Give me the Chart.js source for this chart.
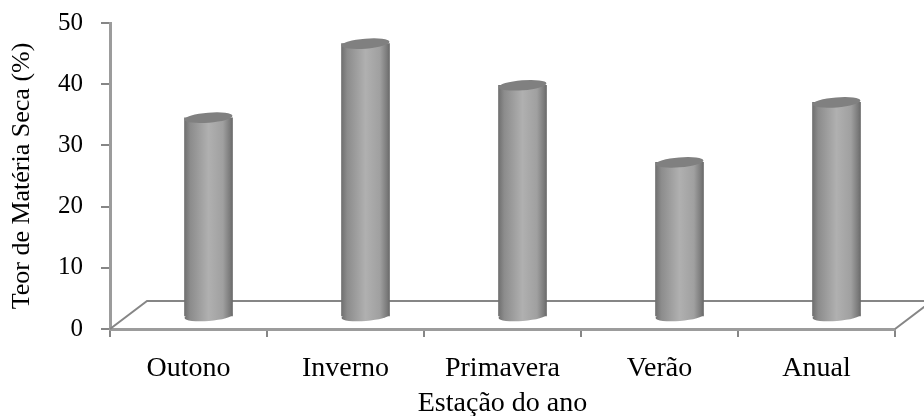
<!DOCTYPE html>
<html>
<head>
<meta charset="utf-8">
<script src="https://cdn.jsdelivr.net/npm/chart.js@4"></script>
<style>
  html, body { margin: 0; padding: 0; background: #fff; }
  #wrap { width: 924px; height: 416px; }
</style>
</head>
<body>
<div id="wrap"><canvas id="grafico" width="924" height="416"></canvas></div>
<script>
// dados
const estacoes = ['Outono', 'Inverno', 'Primavera', 'Verão', 'Anual'];
const materiaSeca = [32.4, 44.5, 37.7, 25.1, 34.9];
const ticksY = [0, 10, 20, 30, 40, 50];

const CINZA_EIXO = '#868686';
const CINZA_BORDA = '#9c9c9c';
const FONTE = '"Liberation Serif", serif';

// deslocamento do efeito 3D (piso), em px
const PROF_X = 37, PROF_Y = 28;
const BARRA_DX = 20, BARRA_DY = 13; // barra fica no meio do piso
const ELIPSE_RY = 5, ELIPSE_ROT = -0.08;

function gradienteCilindro(ctx, x0, x1) {
  const g = ctx.createLinearGradient(x0, 0, x1, 0);
  g.addColorStop(0, '#707070');
  g.addColorStop(0.12, '#8c8c8c');
  g.addColorStop(0.5, '#b0b0b0');
  g.addColorStop(0.8, '#a0a0a0');
  g.addColorStop(0.95, '#7a7a7a');
  g.addColorStop(1, '#6a6a6a');
  return g;
}

// piso por trás das barras
const piso = {
  id: 'piso',
  beforeDatasetsDraw(chart) {
    const { ctx, chartArea: a } = chart;
    ctx.save();
    ctx.strokeStyle = CINZA_EIXO;
    ctx.lineWidth = 2;
    ctx.beginPath();
    ctx.moveTo(a.left, a.bottom);
    ctx.lineTo(a.left + PROF_X, a.bottom - PROF_Y);
    ctx.lineTo(chart.width, a.bottom - PROF_Y);
    ctx.moveTo(a.right, a.bottom);
    ctx.lineTo(a.right + PROF_X, a.bottom - PROF_Y);
    ctx.stroke();
    ctx.restore();
  }
};

// tampa e fundo dos cilindros
const cilindro = {
  id: 'cilindro',
  afterDatasetsDraw(chart) {
    const { ctx } = chart;
    chart.getDatasetMeta(0).data.forEach((bar) => {
      const rx = bar.width / 2;
      ctx.save();
      ctx.fillStyle = gradienteCilindro(ctx, bar.x - rx, bar.x + rx);
      ctx.beginPath();
      ctx.ellipse(bar.x, bar.base, rx, ELIPSE_RY, ELIPSE_ROT, 0, Math.PI * 2);
      ctx.fill();
      ctx.fillStyle = '#808080';
      ctx.beginPath();
      ctx.ellipse(bar.x, bar.y, rx, ELIPSE_RY, ELIPSE_ROT, 0, Math.PI * 2);
      ctx.fill();
      ctx.restore();
    });
  }
};

new Chart(document.getElementById('grafico'), {
  type: 'bar',
  plugins: [piso, cilindro],
  data: {
    labels: estacoes,
    datasets: [{
      data: materiaSeca.map((v, i) => ({ x: i, y: v })),
      xAxisID: 'xBarra',
      yAxisID: 'yBarra',
      barThickness: 48,
      borderWidth: 0,
      backgroundColor(c) {
        const escala = c.chart.scales.xBarra;
        const x = escala ? escala.getPixelForValue(c.dataIndex) : NaN;
        if (!isFinite(x)) return '#999';
        return gradienteCilindro(c.chart.ctx, x - 24, x + 24);
      }
    }]
  },
  options: {
    responsive: false,
    animation: false,
    layout: { padding: { top: 23, right: 29, bottom: 0, left: 0 } },
    plugins: { legend: { display: false }, tooltip: { enabled: false } },
    scales: {
      x: {
        type: 'category',
        offset: true,
        afterFit(s) { s.height = 87; },
        grid: { offset: true, drawOnChartArea: false, color: CINZA_EIXO, lineWidth: 2, tickLength: 8 },
        border: { color: CINZA_BORDA, width: 3 },
        ticks: { color: '#000', font: { family: FONTE, size: 28 }, padding: 15, maxRotation: 0, autoSkip: false },
        title: { display: true, text: 'Estação do ano', color: '#000', font: { family: FONTE, size: 28, lineHeight: 0.85 }, padding: 0 }
      },
      y: {
        min: 0,
        max: 50,
        // tira a folga que o chart.js reserva pro rótulo do topo
        afterFit(s) { s.width = 110; s.paddingTop = 0; s.paddingBottom = 0; },
        afterBuildTicks(s) { s.ticks = ticksY.map((v) => ({ value: v })); },
        grid: { drawOnChartArea: false, color: CINZA_EIXO, lineWidth: 2, tickLength: 9 },
        border: { color: CINZA_BORDA, width: 3 },
        ticks: { color: '#000', font: { family: FONTE, size: 25 }, padding: 18 },
        title: { display: true, text: 'Teor de Matéria Seca (%)', color: '#000', font: { family: FONTE, size: 26 }, padding: { top: 7, bottom: 0 } }
      },
      // eixos ocultos: mesma escala, deslocada pela profundidade do piso
      xBarra: {
        type: 'linear',
        display: false,
        offset: false,
        min: -0.5 - BARRA_DX / 157,
        max: 4.5 - BARRA_DX / 157
      },
      yBarra: {
        type: 'linear',
        display: false,
        min: -BARRA_DY / 6.12,
        max: 50 - BARRA_DY / 6.12
      }
    }
  }
});
</script>
</body>
</html>
